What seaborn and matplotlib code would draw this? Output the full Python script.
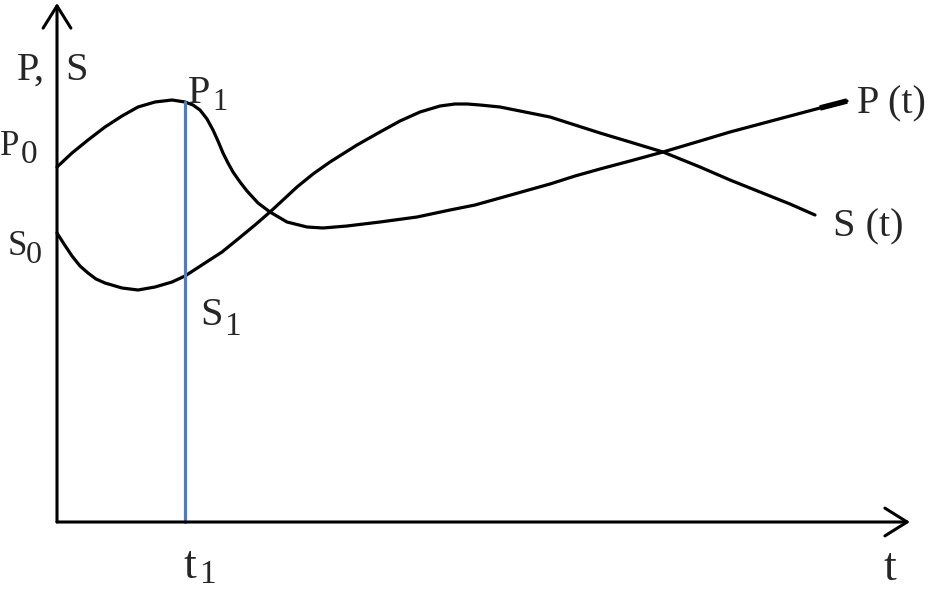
import numpy as np
import matplotlib.pyplot as plt
import seaborn as sns

# ---- данные (x = время, y = значение) ----
p_t = [0, 15, 31, 48, 65, 81, 98, 115, 128, 136,
       143, 150, 156, 161, 166, 171, 176, 183, 190, 201,
       213, 230, 250, 266, 290, 323, 360, 393, 418, 443,
       468, 493, 518, 543, 573, 606, 643, 673, 703, 733,
       763, 790]
p_val = [355, 369, 382, 395, 406, 415, 420, 422, 420, 417,
         412, 403, 392, 381, 369, 359, 350, 340, 331, 319,
         310, 300, 295, 294, 296, 300, 305, 312, 317, 324,
         331, 338, 346, 353, 361, 370, 381, 390, 398, 406,
         414, 421]

s_t = [0, 7, 15, 23, 31, 39, 48, 65, 81, 98,
       115, 128, 148, 165, 181, 198, 213, 226, 240, 256,
       273, 300, 323, 343, 363, 383, 398, 410, 423, 443,
       468, 493, 518, 543, 573, 606, 643, 673, 703, 733,
       758]
s_val = [289, 278, 266, 256, 249, 243, 239, 234, 232, 235,
         240, 246, 259, 270, 283, 297, 310, 322, 335, 348,
         360, 377, 390, 401, 410, 416, 418, 418, 417, 415,
         410, 405, 397, 389, 380, 370, 355, 342, 330, 318,
         307]

t1 = 128          # момент t1
p1 = 420          # верх синей линии

sns.set_style("white")
plt.rcParams["font.family"] = ["Liberation Serif", "DejaVu Serif"]

fig = plt.figure(figsize=(9.34, 5.92), dpi=100)
ax = fig.add_axes([0, 0, 1, 1])

sns.lineplot(x=p_t, y=p_val, ax=ax, color="black", lw=2.3, sort=False)
sns.lineplot(x=s_t, y=s_val, ax=ax, color="black", lw=2.3, sort=False)
# утолщение на конце P(t)
ax.plot(p_t[-2:], p_val[-2:], color="black", lw=4, solid_capstyle="butt")

# синяя линия t1
ax.plot([t1, t1], [0, p1], color="#4A7EC2", lw=2.3)

# оси со стрелками
arrow = dict(arrowstyle="->,head_length=1.6,head_width=1.0", lw=2.2,
             color="black", shrinkA=0, shrinkB=0, mutation_scale=10)
ax.annotate("", xy=(0, 519), xytext=(0, 0), arrowprops=arrow)
ax.annotate("", xy=(853, 0), xytext=(0, 0), arrowprops=arrow)

ax.set_xlim(-57, 877)
ax.set_ylim(-70, 522)
ax.axis("off")


def lab(x, y, s, size):
    ax.text(x, y, s, fontsize=size, ha="left", va="baseline")


lab(-40, 442, "P,", 29)
lab(8, 442, "S", 29)
lab(-57, 367, "P", 25)
lab(-36, 359, "0", 24)
lab(-49, 267, "S", 25)
lab(-31, 259, "0", 23)
lab(131, 419, "P", 29)
lab(155, 412, "1", 22)
lab(143, 197, "S", 29)
lab(167, 187, "1", 24)
lab(800, 409, "P (t)", 29)
lab(776, 286, "S (t)", 29)
lab(826, -58, "t", 33)
lab(126, -56, "t", 33)
lab(142, -61, "1", 24)

fig.savefig("out.png", dpi=100)
